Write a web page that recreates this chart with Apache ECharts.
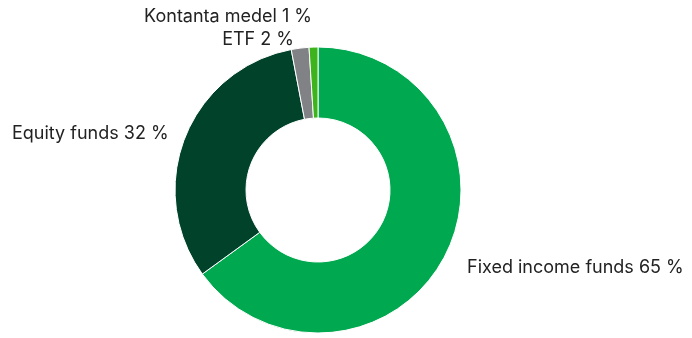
<!DOCTYPE html>
<html>
<head>
<meta charset="utf-8">
<script src="https://cdn.jsdelivr.net/npm/echarts@6/dist/echarts.min.js"></script>
<style>
  html, body { margin: 0; padding: 0; background: #fff; }
  #chart { width: 692px; height: 338px; }
</style>
</head>
<body>
<div id="chart"></div>
<script>
// 资产分配数据
const categories = ['Fixed income funds', 'Equity funds', 'ETF', 'Kontanta medel']
const shares = [65, 32, 2, 1]
const colors = ['#00a94f', '#00432a', '#808285', '#3db31c']

// label anchor spots (x, y, align) for each slice
const labelSpots = [
  { x: 467, y: 268, align: 'left' },
  { x: 12, y: 134, align: 'left' },
  { x: 294, y: 40, align: 'right' },
  { x: 312, y: 17, align: 'right' }
]

const chart = echarts.init(document.getElementById('chart'))
chart.setOption({
  animation: false,
  series: [
    {
      type: 'pie',
      center: [318, 190],
      radius: [72, 143],
      startAngle: 90,
      clockwise: true,
      data: categories.map((name, i) => ({
        name: name,
        value: shares[i],
        itemStyle: { color: colors[i] }
      })),
      itemStyle: { borderColor: '#fff', borderWidth: 1 },
      label: {
        show: true,
        position: 'outside',
        formatter: p => p.name + ' ' + p.value + ' %',
        color: '#222',
        fontFamily: 'Inter',
        fontSize: 18,
        overflow: 'none'
      },
      labelLine: { show: false },
      labelLayout: p => {
        const s = labelSpots[p.dataIndex]
        return { x: s.x, y: s.y, align: s.align, verticalAlign: 'middle' }
      }
    }
  ]
})
</script>
</body>
</html>
